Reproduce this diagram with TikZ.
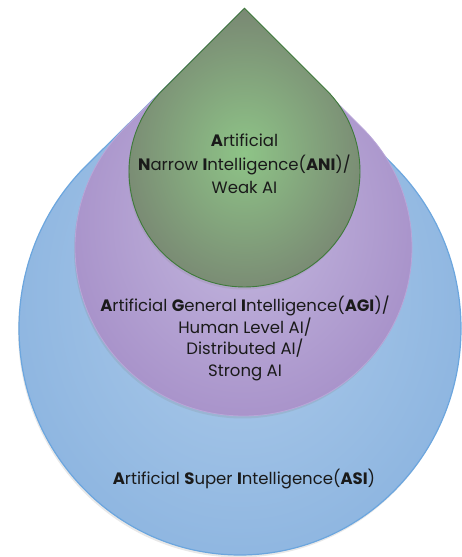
\documentclass[tikz,border=0pt]{standalone}
\usepackage{fontspec}
\setmainfont{Poppins}
\usetikzlibrary{shadows}
\definecolor{bluein}{HTML}{ADCBEA}
\definecolor{blueout}{HTML}{8DB5E0}
\definecolor{blueline}{HTML}{6CA6DE}
\definecolor{purpin}{HTML}{C4B8DF}
\definecolor{purpout}{HTML}{A791C9}
\definecolor{purpline}{HTML}{B9A6D8}
\definecolor{greenin}{HTML}{8EC487}
\definecolor{greenout}{HTML}{798873}
\definecolor{greenline}{HTML}{3E7A3A}
\definecolor{txt}{HTML}{1A1A1A}
\tikzset{
  drop/.style={drop shadow={opacity=0.18,shadow xshift=-1pt,shadow yshift=-2.5pt}},
  bluedrop/.style={drop,shading=radial,inner color=bluein,outer color=blueout,draw=blueline,line width=1.2pt},
  purpdrop/.style={drop,shading=radial,inner color=purpin,outer color=purpout,draw=purpline,line width=0.8pt},
  greendrop/.style={drop,shading=radial,inner color=greenin,outer color=greenout,draw=greenline,line width=0.9pt},
  label/.style={align=center,text=txt,inner sep=0pt},
  big/.style={font=\fontsize{16.5}{23.5}\selectfont},
  mid/.style={font=\fontsize{16.5}{21.7}\selectfont}
}
\begin{document}
\begin{tikzpicture}[x=1pt,y=1pt]
\useasboundingbox (0,0) rectangle (462,557);
% blue teardrop
\path[bluedrop] (243,546.5) -- (83.73,388.83)
  arc[start angle=135,end angle=405,x radius=221,y radius=226.6] -- cycle;
% purple teardrop
\path[purpdrop] (243.5,547.8) -- (124.35,428.65)
  arc[start angle=135,end angle=405,radius=168.5] -- cycle;
% green teardrop
\path[greendrop] (244.5,548.8) -- (162.83,467.17)
  arc[start angle=135,end angle=405,radius=115.5] -- cycle;
\node[label,big] (ani) at (244.5,393) {\textbf{A}rtificial\\\textbf{N}arrow \textbf{I}ntelligence(\textbf{ANI})/\\Weak AI};
\node[label,mid] (agi) at (245,218.5) {\textbf{A}rtificial \textbf{G}eneral \textbf{I}ntelligence(\textbf{AGI})/\\Human Level AI/\\Distributed AI/\\Strong AI};
\node[label,big] (asi) at (244,78) {\textbf{A}rtificial \textbf{S}uper \textbf{I}ntelligence(\textbf{ASI})};
\end{tikzpicture}
\end{document}
